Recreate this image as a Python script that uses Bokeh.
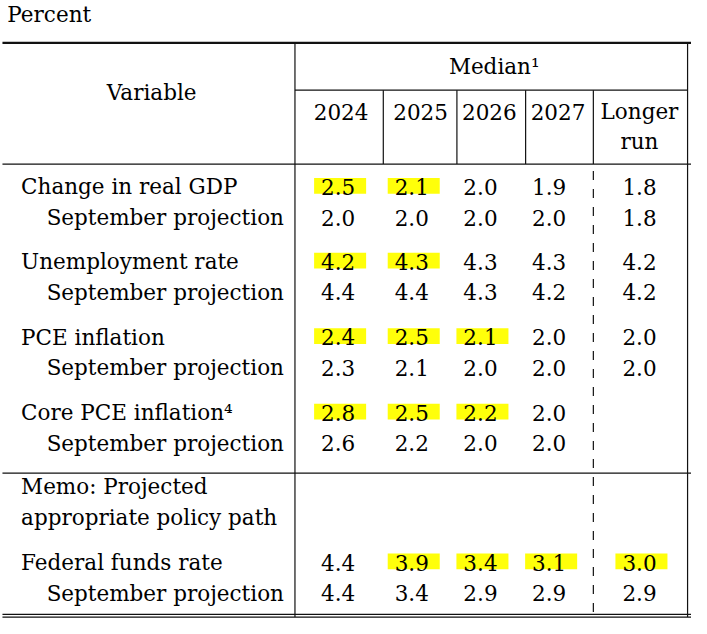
from bokeh.plotting import figure
from bokeh.models import Range1d, ColumnDataSource
from bokeh.core.properties import value
from bokeh.embed import file_html
from bokeh.resources import INLINE

# ---------------- data ----------------
unit_label = "Percent"
group_header = "Median"
group_note = "1"
years = ["2024", "2025", "2026", "2027"]
longer_run = ["Longer", "run"]
variables = ["Change in real GDP", "Unemployment rate", "PCE inflation",
             "Core PCE inflation", "Federal funds rate"]
variable_notes = ["", "", "", "4", ""]
prior_label = "September projection"
memo_lines = ["Memo: Projected", "appropriate policy path"]

median = [[2.5, 2.1, 2.0, 1.9, 1.8],
          [4.2, 4.3, 4.3, 4.3, 4.2],
          [2.4, 2.5, 2.1, 2.0, 2.0],
          [2.8, 2.5, 2.2, 2.0, None],
          [4.4, 3.9, 3.4, 3.1, 3.0]]
september = [[2.0, 2.0, 2.0, 2.0, 1.8],
             [4.4, 4.4, 4.3, 4.2, 4.2],
             [2.3, 2.1, 2.0, 2.0, 2.0],
             [2.6, 2.2, 2.0, 2.0, None],
             [4.4, 3.4, 2.9, 2.9, 2.9]]
highlighted = [[1, 1, 0, 0, 0],
               [1, 1, 0, 0, 0],
               [1, 1, 1, 0, 0],
               [1, 1, 1, 0, 0],
               [0, 1, 1, 1, 1]]

SUP = str.maketrans("0123456789", "⁰¹²³⁴⁵⁶⁷⁸⁹")

# ---------------- layout ----------------
FONT = value("DejaVu Serif")
FS = "21.5px"
TEXT_DY = -8.3          # baseline correction for the text renderer
col_x = [347, 422, 492, 562, 654]          # value column centres
head_x = [350, 431, 501, 571]              # year header centres
row_base = [201.5, 277.5, 354.0, 430.5, 582.5]
sub_dy = 31
LEFT, RIGHT = 5, 707
VX, RX = 303, 703
col_div = [393, 468, 538, 607]

p = figure(width=691, height=618, output_backend="svg", toolbar_location=None,
           x_range=Range1d(3, 707), y_range=Range1d(631, 4),
           min_border=0, outline_line_color=None)
p.axis.visible = False
p.grid.visible = False
p.background_fill_color = "white"

# highlights
hx, hy = [], []
for r, row in enumerate(highlighted):
    for c, h in enumerate(row):
        if h:
            hx.append(col_x[c] + 2)
            hy.append(row_base[r] - 9.5)
p.rect(x=hx, y=hy, width=53, height=16, fill_color="#FFFF0A",
       line_color=None)

# rules
ink = "#111111"
p.segment(x0=[LEFT], y0=[47], x1=[RIGHT], y1=[47], line_color=ink, line_width=2.2)
p.segment(x0=[LEFT, LEFT], y0=[170, 483.5], x1=[RIGHT, RIGHT], y1=[170, 483.5],
          line_color=ink, line_width=1.2)
p.segment(x0=[LEFT, LEFT], y0=[626.8, 629.6], x1=[RIGHT, RIGHT], y1=[626.8, 629.6],
          line_color=ink, line_width=1.2)
p.segment(x0=[VX, RX], y0=[47, 47], x1=[VX, RX], y1=[629.6, 629.6],
          line_color=ink, line_width=1.2)
p.segment(x0=[VX], y0=[95], x1=[RX], y1=[95], line_color=ink, line_width=1.2)
p.segment(x0=col_div, y0=[95] * 4, x1=col_div, y1=[170] * 4,
          line_color=ink, line_width=1.2)
p.segment(x0=[col_div[3]], y0=[177], x1=[col_div[3]], y1=[626.8],
          line_color=ink, line_width=1.2, line_dash="9 9")

def txt(xs, ys, texts, align="left", size=FS):
    src = ColumnDataSource(dict(x=xs, y=[y + TEXT_DY for y in ys], t=texts))
    p.text(x="x", y="y", text="t", source=src, text_font=FONT,
           text_font_size=size, text_align=align, text_baseline="alphabetic",
           text_color="#000000")

# header texts
txt([10], [27], [unit_label])
txt([157], [106], ["Variable"], align="center")
txt([506], [79], [group_header + group_note.translate(SUP)], align="center")
txt(head_x, [125] * 4, years, align="center")
txt([654, 654], [125, 155], longer_run, align="center")

# row labels
lab_x, lab_y, lab_t = [], [], []
for r, name in enumerate(variables):
    lab_x += [24, 50]
    lab_y += [row_base[r], row_base[r] + sub_dy]
    lab_t += [name + variable_notes[r].translate(SUP), prior_label]
txt(lab_x, lab_y, lab_t)
txt([24, 24], [505.5, 536.5], memo_lines)

# values
vx, vy, vt = [], [], []
for r in range(len(variables)):
    for c in range(5):
        for series, dy in ((median, 0), (september, sub_dy)):
            v = series[r][c]
            if v is not None:
                vx.append(col_x[c])
                vy.append(row_base[r] + dy)
                vt.append(f"{v:.1f}")
txt(vx, vy, vt, align="center")

open("out.html", "w").write(file_html(p, INLINE))
